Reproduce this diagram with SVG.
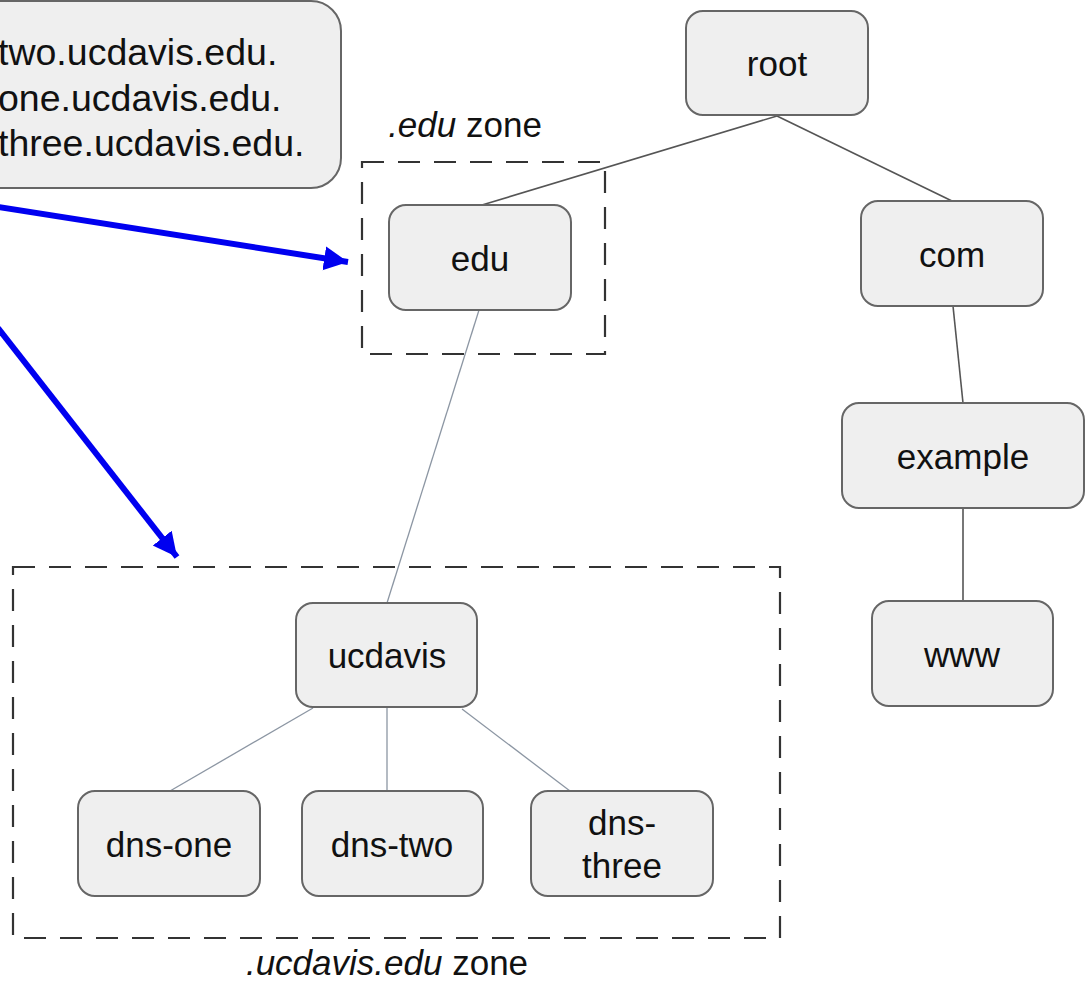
<svg xmlns="http://www.w3.org/2000/svg" width="1086" height="983" viewBox="0 0 1086 983">
<style>
.node rect{fill:#efefef;stroke:#666;stroke-width:2}
.lbl{font-family:"Liberation Sans",Arial,sans-serif;font-size:35px;fill:#111;text-anchor:middle}
.box{font-family:"Liberation Sans",Arial,sans-serif;font-size:37.5px;fill:#111}
.zone{fill:none;stroke:#333;stroke-width:2.2;stroke-dasharray:22 14}
.edge{stroke:#555;stroke-width:1.6;fill:none}
.edge2{stroke:#8c96a3;stroke-width:1.3;fill:none}
.blue{stroke:#0000f0;stroke-width:6;fill:none}
</style>
<defs>
<marker id="ah" markerUnits="userSpaceOnUse" markerWidth="26" markerHeight="26" refX="24" refY="12" orient="auto">
<path d="M0,0 L24,12 L0,24 Z" fill="#0000f0"/>
</marker>
</defs>
<rect width="1086" height="983" fill="#fff"/>

<g id="names-box" class="node">
<rect x="-40" y="1" width="381" height="187" rx="30"/>
<text class="box" x="-2" y="65">two.ucdavis.edu.</text>
<text class="box" x="-2" y="111">one.ucdavis.edu.</text>
<text class="box" x="-2" y="156">three.ucdavis.edu.</text>
</g>

<g id="zones">
<rect class="zone" x="362" y="162" width="243" height="192"/>
<text class="lbl" x="465" y="137"><tspan font-style="italic">.edu</tspan> zone</text>
<rect class="zone" x="13" y="567" width="767" height="371"/>
<text class="lbl" x="387" y="975"><tspan font-style="italic">.ucdavis.edu</tspan> zone</text>
</g>

<g id="connectors">
<line class="edge" x1="777" y1="116" x2="482" y2="205"/>
<line class="edge" x1="777" y1="116" x2="952" y2="201"/>
<line class="edge" x1="953" y1="306" x2="963" y2="403"/>
<line class="edge" x1="963" y1="508" x2="963" y2="601"/>
<line class="edge2" x1="479" y1="310" x2="387" y2="603"/>
<line class="edge2" x1="313" y1="708" x2="170" y2="791"/>
<line class="edge2" x1="387" y1="708" x2="387" y2="791"/>
<line class="edge2" x1="462" y1="709" x2="570" y2="791"/>
<line class="blue" x1="-2" y1="207" x2="348" y2="262" marker-end="url(#ah)"/>
<line class="blue" x1="-2" y1="328" x2="177" y2="557" marker-end="url(#ah)"/>
</g>

<g id="root" class="node"><rect x="686" y="11" width="182" height="104" rx="17"/><text class="lbl" x="777" y="76">root</text></g>
<g id="edu" class="node"><rect x="389" y="205" width="182" height="105" rx="17"/><text class="lbl" x="480" y="271">edu</text></g>
<g id="com" class="node"><rect x="861" y="201" width="182" height="105" rx="17"/><text class="lbl" x="952" y="267">com</text></g>
<g id="example" class="node"><rect x="842" y="403" width="242" height="105" rx="17"/><text class="lbl" x="963" y="469">example</text></g>
<g id="www" class="node"><rect x="872" y="601" width="181" height="105" rx="17"/><text class="lbl" x="962" y="667">www</text></g>
<g id="ucdavis" class="node"><rect x="296" y="603" width="181" height="104" rx="17"/><text class="lbl" x="387" y="668">ucdavis</text></g>
<g id="dns-one" class="node"><rect x="78" y="791" width="182" height="105" rx="17"/><text class="lbl" x="169" y="857">dns-one</text></g>
<g id="dns-two" class="node"><rect x="302" y="791" width="181" height="105" rx="17"/><text class="lbl" x="392" y="857">dns-two</text></g>
<g id="dns-three" class="node"><rect x="531" y="791" width="182" height="105" rx="17"/><text class="lbl" x="622" y="835">dns-</text><text class="lbl" x="622" y="878">three</text></g>
</svg>
